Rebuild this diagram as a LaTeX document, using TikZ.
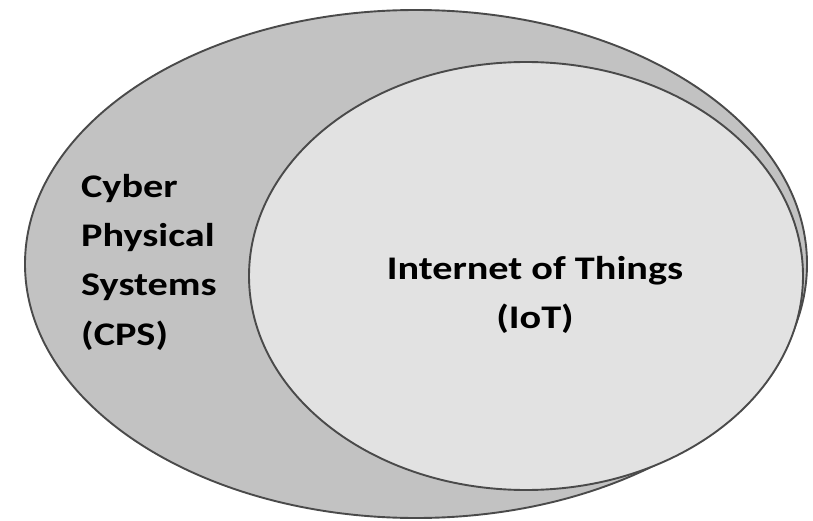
\documentclass[tikz,border=0pt]{standalone}
\usepackage{fontspec}
\newfontfamily\lab{Carlito}[FakeStretch=1.22]
\definecolor{outerfill}{HTML}{C2C2C2}
\definecolor{innerfill}{HTML}{E2E2E2}
\definecolor{edge}{HTML}{4A4A4A}
\tikzset{
  setshape/.style={draw=edge, line width=1.9pt},
  labeltext/.style={inner sep=0pt, font=\lab\bfseries\fontsize{33}{49}\selectfont, text=black}
}
\begin{document}
\begin{tikzpicture}[x=1pt,y=1pt]
\useasboundingbox (0,0) rectangle (813,520);
\fill[white] (0,0) rectangle (813,520);
\draw[setshape, fill=outerfill] (416,256) ellipse [x radius=391, y radius=254];
\draw[setshape, fill=innerfill] (526,244) ellipse [x radius=277, y radius=214];
\node[labeltext, anchor=base west] (cps) at (81,322)
  {\begin{tabular}[t]{@{}l@{}}Cyber\\Physical\\Systems\\(CPS)\end{tabular}};
\node[labeltext, anchor=base] (iot) at (535,241)
  {\begin{tabular}[t]{@{}c@{}}Internet of Things\\(IoT)\end{tabular}};
\end{tikzpicture}
\end{document}
